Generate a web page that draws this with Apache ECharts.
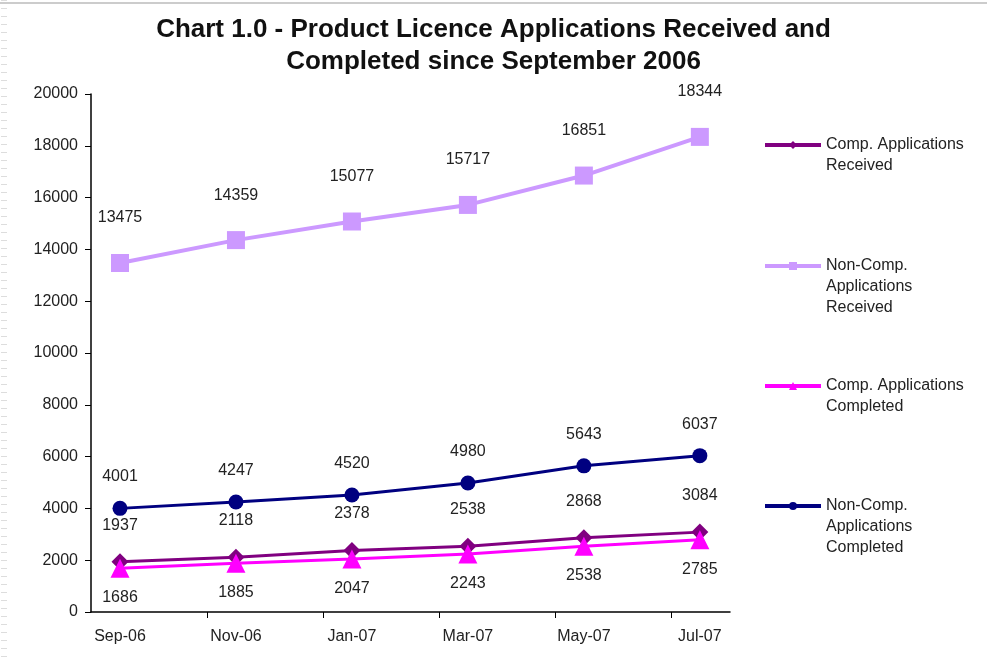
<!DOCTYPE html>
<html>
<head>
<meta charset="utf-8">
<script src="https://cdn.jsdelivr.net/npm/echarts@6/dist/echarts.min.js"></script>
<style>
  html, body { margin: 0; padding: 0; background: #fff; }
  #chart { width: 987px; height: 664px; }
</style>
</head>
<body>
<div id="chart"></div>
<script>
  // months shown on the x axis
  const categories = ['Sep-06', 'Nov-06', 'Jan-07', 'Mar-07', 'May-07', 'Jul-07'];
  const compReceived = [1937, 2118, 2378, 2538, 2868, 3084];
  const nonCompReceived = [13475, 14359, 15077, 15717, 16851, 18344];
  const compCompleted = [1686, 1885, 2047, 2243, 2538, 2785];
  const nonCompCompleted = [4001, 4247, 4520, 4980, 5643, 6037];
  const yTicks = [0, 2000, 4000, 6000, 8000, 10000, 12000, 14000, 16000, 18000, 20000];

  const names = [
    'Comp. Applications\nReceived',
    'Non-Comp.\nApplications\nReceived',
    'Comp. Applications\nCompleted',
    'Non-Comp.\nApplications\nCompleted'
  ];

  // index -> [x, y] pairs so the points sit on the value x axis
  const toPairs = arr => arr.map((v, i) => [i, v]);

  const font = 'Liberation Sans, Arial, sans-serif';
  const labelStyle = { show: true, color: '#222', fontSize: 16, fontFamily: font };

  const chart = echarts.init(document.getElementById('chart'));

  // one legend per item; blank lines on top so the icon sits on the first text line
  const lineH = 21;
  const firstLineY = [145, 266, 386, 506];
  const lines = [2, 3, 2, 3];
  const legends = names.map((n, i) => {
    const blockH = (2 * lines[i] - 1) * lineH;
    return {
      data: [n],
      left: 758,
      top: firstLineY[i] - blockH / 2 - 5,
      itemWidth: 56,
      itemHeight: 10,
      selectedMode: false,
      lineStyle: { width: 4 },
      formatter: name => '\n'.repeat(lines[i] - 1) + name,
      textStyle: {
        color: '#222',
        fontSize: 16,
        fontFamily: font,
        lineHeight: lineH
      }
    };
  });

  const option = {
    backgroundColor: '#fff',
    animation: false,
    title: {
      text: 'Chart 1.0 - Product Licence Applications Received and\nCompleted since September 2006',
      left: 'center',
      top: 9,
      textStyle: {
        fontSize: 26,
        fontWeight: 'bold',
        fontFamily: font,
        color: '#111',
        lineHeight: 32
      }
    },
    legend: legends,
    grid: { left: 91, top: 94, right: 257, bottom: 52 },
    xAxis: {
      type: 'value',
      min: -0.25,
      max: 5.26,
      splitLine: { show: false },
      axisLine: { show: true, onZero: false, lineStyle: { color: '#000', width: 1.5 } },
      axisTick: {
        show: true,
        length: 6,
        lineStyle: { color: '#000' },
        customValues: [0.75, 1.75, 2.75, 3.75, 4.75]
      },
      axisLabel: {
        customValues: [0, 1, 2, 3, 4, 5],
        formatter: v => categories[Math.round(v)],
        color: '#222',
        fontSize: 16,
        fontFamily: font,
        margin: 17
      }
    },
    yAxis: {
      type: 'value',
      min: yTicks[0],
      max: yTicks[yTicks.length - 1],
      interval: 2000,
      splitLine: { show: false },
      axisLine: { show: true, onZero: false, lineStyle: { color: '#000', width: 1.5 } },
      axisTick: { show: true, length: 6, lineStyle: { color: '#000' } },
      axisLabel: {
        formatter: v => String(v),
        color: '#222',
        fontSize: 16,
        fontFamily: font,
        margin: 13
      }
    },
    series: [
      {
        name: names[0],
        type: 'line',
        data: toPairs(compReceived),
        symbol: 'diamond',
        symbolSize: 17,
        color: '#800080',
        lineStyle: { width: 3 },
        label: Object.assign({ position: 'top', distance: 20 }, labelStyle)
      },
      {
        name: names[1],
        type: 'line',
        data: toPairs(nonCompReceived),
        symbol: 'rect',
        symbolSize: 18,
        color: '#CC99FF',
        lineStyle: { width: 4 },
        label: Object.assign({ position: 'top', distance: 28 }, labelStyle)
      },
      {
        name: names[2],
        type: 'line',
        data: toPairs(compCompleted),
        symbol: 'triangle',
        symbolSize: 19,
        color: '#FF00FF',
        lineStyle: { width: 3 },
        label: Object.assign({ position: 'bottom', distance: 12 }, labelStyle)
      },
      {
        name: names[3],
        type: 'line',
        data: toPairs(nonCompCompleted),
        symbol: 'circle',
        symbolSize: 15,
        color: '#000080',
        lineStyle: { width: 3 },
        label: Object.assign({ position: 'top', distance: 16 }, labelStyle)
      }
    ],
    graphic: [
      // slide edge decoration
      { type: 'line', shape: { x1: 0, y1: 3, x2: 987, y2: 3 }, style: { stroke: '#ccc', lineWidth: 2 } },
      { type: 'line', shape: { x1: 4, y1: 0, x2: 4, y2: 664 }, style: { stroke: '#ddd', lineWidth: 6, lineDash: [1, 7] } }
    ]
  };

  chart.setOption(option);
</script>
</body>
</html>
